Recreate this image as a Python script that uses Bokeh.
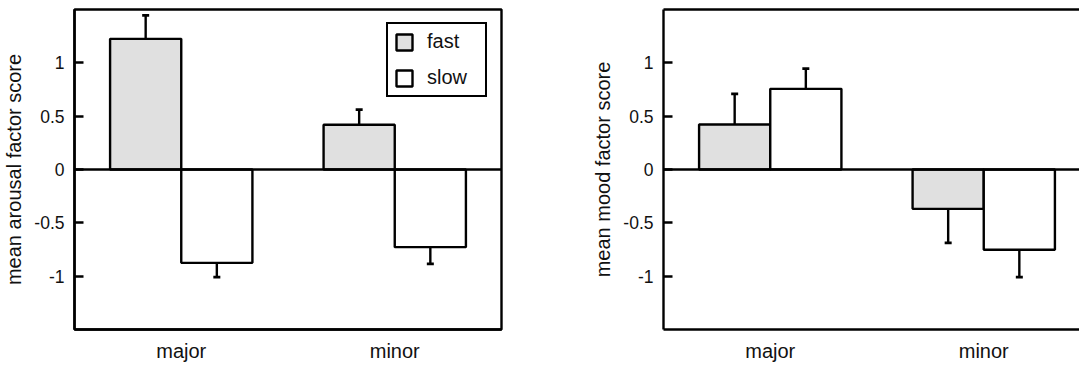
from bokeh.plotting import figure
from bokeh.layouts import row
from bokeh.models import Span, FixedTicker, LinearAxis, Range1d, Legend, LegendItem
from bokeh.embed import file_html
from bokeh.resources import INLINE

categories = ["major", "minor"]
speeds = ["fast", "slow"]

arousal_fast = [1.225, 0.419]
arousal_fast_err = [0.22, 0.143]
arousal_slow = [-0.875, -0.728]
arousal_slow_err = [0.134, 0.156]

mood_fast = [0.422, -0.369]
mood_fast_err = [0.287, 0.318]
mood_slow = [0.756, -0.753]
mood_slow_err = [0.19, 0.256]

y_ticks = [-1, -0.5, 0, 0.5, 1]
y_tick_labels = ["-1", "-0.5", "0", "0.5", "1"]

FONT = "Liberation Sans"
FILL = {"fast": "#e0e0e0", "slow": "#ffffff"}
LW = 2.4


def make_panel(ylabel, fast, fast_err, slow, slow_err, width, border_right, x_end, full_box):
    p = figure(width=width, height=367, output_backend="svg", toolbar_location=None,
               x_range=Range1d(0, x_end), y_range=Range1d(-1.5, 1.5),
               min_border_left=74, min_border_right=border_right,
               min_border_top=9, min_border_bottom=38)
    p.grid.visible = False
    p.background_fill_color = "white"
    p.border_fill_color = "white"

    renderers = {}
    for k, (vals, errs) in enumerate([(fast, fast_err), (slow, slow_err)]):
        name = speeds[k]
        offset = -1 / 6 if k == 0 else 1 / 6
        xs = [i + 0.5 + offset for i in range(len(categories))]
        r = p.vbar(x=xs, top=vals, bottom=0, width=1 / 3, fill_color=FILL[name],
                   line_color="black", line_width=LW)
        renderers[name] = r
        tips = [v + (e if v >= 0 else -e) for v, e in zip(vals, errs)]
        p.segment(x0=xs, y0=vals, x1=xs, y1=tips, line_color="black", line_width=LW)
        p.scatter(x=xs, y=tips, marker="dash", size=7, line_color="black", line_width=2.8)

    p.add_layout(Span(location=0, dimension="width", line_color="black", line_width=LW))

    ya = p.yaxis[0]
    ya.ticker = FixedTicker(ticks=y_ticks)
    ya.major_label_overrides = {t: l for t, l in zip(y_ticks, y_tick_labels)}
    ya.major_tick_in = 9
    ya.major_tick_out = 0
    ya.minor_tick_in = 0
    ya.minor_tick_out = 0
    ya.major_tick_line_width = LW
    ya.major_tick_line_color = "black"
    ya.axis_line_width = LW
    ya.axis_line_color = "black"
    ya.major_label_standoff = 10
    ya.major_label_text_font = FONT
    ya.major_label_text_font_size = "17.5px"
    ya.major_label_text_color = "#111111"
    ya.axis_label = ylabel
    ya.axis_label_text_font = FONT
    ya.axis_label_text_font_size = "20px"
    ya.axis_label_text_font_style = "normal"
    ya.axis_label_text_color = "#111111"
    ya.axis_label_standoff = 6

    xa = p.below[0]
    xa.ticker = FixedTicker(ticks=[i + 0.5 for i in range(len(categories))])
    xa.major_label_overrides = {i + 0.5: c for i, c in enumerate(categories)}
    xa.major_tick_in = 0
    xa.major_tick_out = 0
    xa.minor_tick_in = 0
    xa.minor_tick_out = 0
    xa.axis_line_width = LW
    xa.axis_line_color = "black"
    xa.major_label_standoff = 10
    xa.major_label_text_font = FONT
    xa.major_label_text_font_size = "20px"
    xa.major_label_text_color = "#111111"

    if full_box:
        p.outline_line_color = "black"
        p.outline_line_width = LW
        p.outline_line_alpha = 1
    else:
        p.outline_line_color = None
        top = LinearAxis(ticker=FixedTicker(ticks=[]), major_tick_in=0, major_tick_out=0,
                         minor_tick_in=0, minor_tick_out=0, major_label_standoff=0,
                         major_label_text_font_size="0px", axis_line_width=LW,
                         axis_line_color="black")
        p.add_layout(top, "above")
    return p, renderers


left, lr = make_panel("mean arousal factor score", arousal_fast, arousal_fast_err,
                      arousal_slow, arousal_slow_err, 589, 88, 2.0, True)
right, _ = make_panel("mean mood factor score", mood_fast, mood_fast_err,
                      mood_slow, mood_slow_err, 490, 0, 2.0 * 416 / 427, False)

legend = Legend(items=[LegendItem(label=s, renderers=[lr[s]]) for s in speeds],
                location=(312, 232), orientation="vertical",
                glyph_width=20, glyph_height=20, label_standoff=13, label_width=52,
                label_height=20, padding=6, spacing=13, margin=0,
                label_text_font=FONT, label_text_font_size="20px", label_text_color="#111111",
                border_line_color="black", border_line_width=LW, border_line_alpha=1,
                background_fill_alpha=1)
left.add_layout(legend, "center")

layout = row(left, right)
open("out.html", "w").write(file_html(layout, INLINE))
